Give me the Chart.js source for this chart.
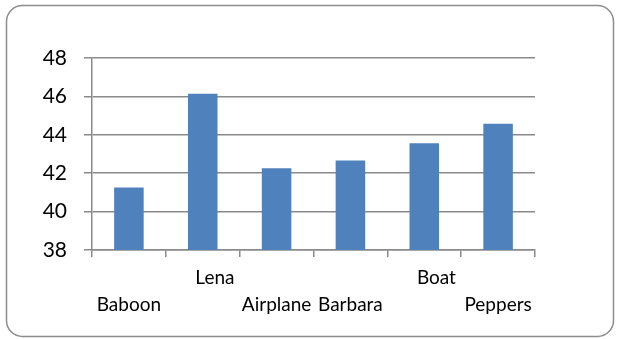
<!DOCTYPE html>
<html>
<head>
<meta charset="utf-8">
<script src="https://cdn.jsdelivr.net/npm/chart.js@4/dist/chart.umd.min.js"></script>
<style>
  html, body { margin: 0; padding: 0; background: #fff; }
  #wrap { position: relative; width: 618px; height: 339px; }
</style>
</head>
<body>
<div id="wrap"><canvas id="c" width="618" height="339"></canvas></div>
<script>
// Test images and their scores
const categories = ['Baboon', 'Lena', 'Airplane', 'Barbara', 'Boat', 'Peppers'];
const scores = [41.25, 46.14, 42.26, 42.66, 43.56, 44.57];
const yTicks = [38, 40, 42, 44, 46, 48];

// Labels that sit on the upper row of the staggered category axis
const upperRow = new Set([1, 4]);

const gridGray = '#8a8a8a';

// Rounded frame around the whole chart
const framePlugin = {
  id: 'frame',
  beforeDraw(chart) {
    const ctx = chart.ctx;
    const x = 6.5, y = 5.5, w = 607, h = 331, r = 16;
    ctx.save();
    ctx.fillStyle = '#fff';
    ctx.fillRect(0, 0, chart.width, chart.height);
    ctx.beginPath();
    ctx.moveTo(x + r, y);
    ctx.lineTo(x + w - r, y);
    ctx.arcTo(x + w, y, x + w, y + r, r);
    ctx.lineTo(x + w, y + h - r);
    ctx.arcTo(x + w, y + h, x + w - r, y + h, r);
    ctx.lineTo(x + r, y + h);
    ctx.arcTo(x, y + h, x, y + h - r, r);
    ctx.lineTo(x, y + r);
    ctx.arcTo(x, y, x + r, y, r);
    ctx.closePath();
    ctx.strokeStyle = '#8c8c8c';
    ctx.lineWidth = 1.5;
    ctx.stroke();
    ctx.restore();
  }
};

new Chart(document.getElementById('c'), {
  type: 'bar',
  data: {
    labels: categories,
    datasets: [{
      data: scores,
      backgroundColor: '#4f81bd',
      borderWidth: 0,
      barPercentage: 0.4,
      categoryPercentage: 1.0
    }]
  },
  options: {
    responsive: false,
    animation: false,
    devicePixelRatio: 1,
    layout: { padding: { left: 0, right: 83, top: 58, bottom: 0 } },
    plugins: { legend: { display: false }, tooltip: { enabled: false } },
    scales: {
      x: {
        offset: true,
        afterFit(s) { s.height = 89; },
        grid: {
          offset: true,
          drawOnChartArea: false,
          drawTicks: true,
          tickLength: 7,
          color: gridGray,
          lineWidth: 1.5
        },
        border: { display: true, color: gridGray, width: 1.5 },
        ticks: {
          autoSkip: false,
          maxRotation: 0,
          minRotation: 0,
          padding: 8,
          color: '#000',
          font: { family: 'Lato', size: 19, lineHeight: 1.4 },
          callback(value, index) {
            const name = categories[index];
            return upperRow.has(index) ? ['     ' + name] : ['', name];
          }
        }
      },
      y: {
        min: yTicks[0],
        max: yTicks[yTicks.length - 1],
        afterFit(s) { s.width = 92; },
        afterBuildTicks(s) { s.ticks = yTicks.map(v => ({ value: v })); },
        grid: {
          color: gridGray,
          lineWidth: 1.5,
          tickLength: 8
        },
        border: { display: true, color: gridGray, width: 1.5 },
        ticks: {
          padding: 17,
          color: '#000',
          font: { family: 'Lato', size: 21 }
        }
      }
    }
  },
  plugins: [framePlugin]
});
</script>
</body>
</html>
